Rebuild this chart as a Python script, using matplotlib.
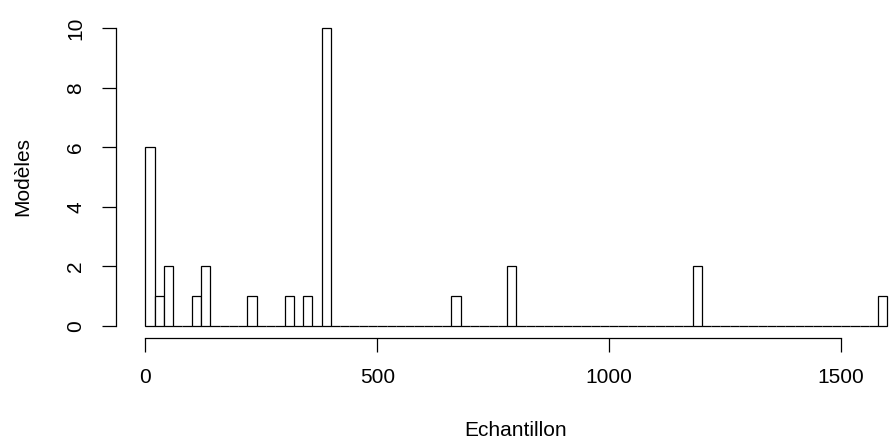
import numpy as np
import matplotlib
matplotlib.use('Agg')
import matplotlib.pyplot as plt

# counts per 20-wide bin (only the non-empty bins, left edge of each bin)
bin_start = [0, 20, 40, 100, 120, 220, 300, 340, 380, 660, 780, 1180, 1580]
counts = [6, 1, 2, 1, 2, 1, 1, 1, 10, 1, 2, 2, 1]
edges = np.arange(0, 1601, 20)

x_ticks = [0, 500, 1000, 1500]
y_ticks = [0, 2, 4, 6, 8, 10]

plt.rcParams['font.family'] = ['Liberation Sans', 'DejaVu Sans']

W, H = 892, 443
fig = plt.figure(figsize=(W / 100, H / 100), dpi=100)
ax = fig.add_axes([115.7 / W, 105.3 / H, (892 - 115.7) / W, 321.3 / H])

ax.hist(bin_start, bins=edges, weights=counts, histtype='bar',
        facecolor='white', edgecolor='black', linewidth=0.9, rwidth=1.0)

ax.set_xlim(-64, 1610)
ax.set_ylim(-0.4, 10.4)

ax.spines['top'].set_visible(False)
ax.spines['right'].set_visible(False)
ax.spines['left'].set_bounds(0, 10)
ax.spines['bottom'].set_bounds(0, 1500)
for s in ['left', 'bottom']:
    ax.spines[s].set_linewidth(0.9)

ax.set_xticks(x_ticks)
ax.set_yticks(y_ticks)
ax.tick_params(axis='both', length=10, width=0.9, labelsize=15)
ax.tick_params(axis='x', pad=12)
ax.tick_params(axis='y', pad=12)
for lbl in ax.get_yticklabels():
    lbl.set_rotation(90)
    lbl.set_va('center')

fig.text(22.5 / W, 1 - 177 / H, 'Modèles', rotation=90, ha='center', va='center', fontsize=15)
fig.text(516 / W, 1 - 431 / H, 'Echantillon', ha='center', va='center', fontsize=15)

fig.savefig('out.png', dpi=100)
